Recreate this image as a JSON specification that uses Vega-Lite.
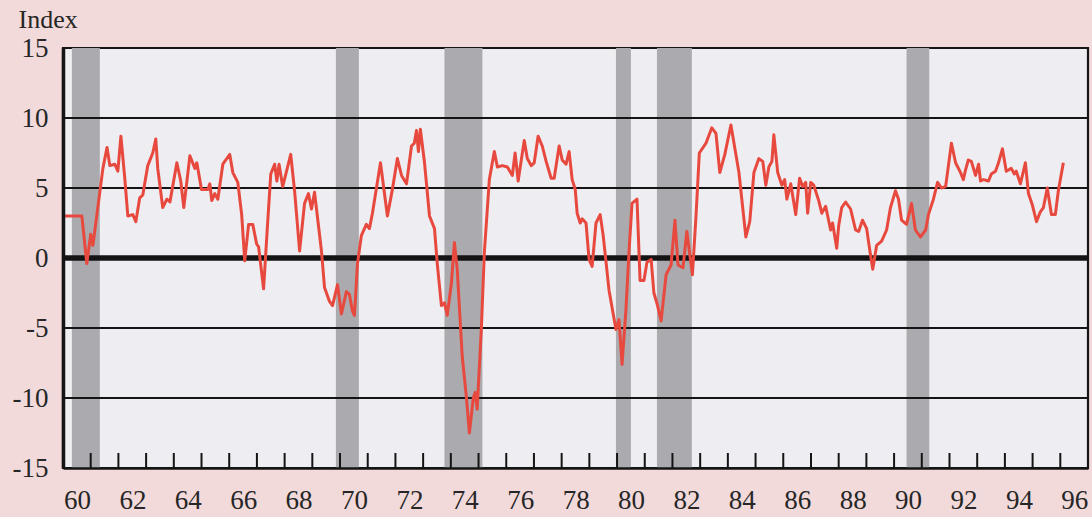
{
  "$schema": "https://vega.github.io/schema/vega-lite/v6.json",
  "width": 1025,
  "height": 420,
  "autosize": {"type": "none"},
  "padding": {"left": 63, "top": 48, "right": 4, "bottom": 49},
  "background": "#f2dadb",
  "view": {"fill": "#eeedf1", "stroke": "#151515", "strokeWidth": 2.2},
  "datasets": {
    "bands": [
      {"start": 1960.32, "end": 1961.33},
      {"start": 1969.85, "end": 1970.68},
      {"start": 1973.77, "end": 1975.14},
      {"start": 1979.96, "end": 1980.5},
      {"start": 1981.44, "end": 1982.7},
      {"start": 1990.45, "end": 1991.27}
    ],
    "grid": [{"g": -10}, {"g": -5}, {"g": 0}, {"g": 5}, {"g": 10}],
    "years": [
      {"yr": 1961}, {"yr": 1962}, {"yr": 1963}, {"yr": 1964}, {"yr": 1965}, {"yr": 1966}, {"yr": 1967}, {"yr": 1968},
      {"yr": 1969}, {"yr": 1970}, {"yr": 1971}, {"yr": 1972}, {"yr": 1973}, {"yr": 1974}, {"yr": 1975}, {"yr": 1976},
      {"yr": 1977}, {"yr": 1978}, {"yr": 1979}, {"yr": 1980}, {"yr": 1981}, {"yr": 1982}, {"yr": 1983}, {"yr": 1984},
      {"yr": 1985}, {"yr": 1986}, {"yr": 1987}, {"yr": 1988}, {"yr": 1989}, {"yr": 1990}, {"yr": 1991}, {"yr": 1992},
      {"yr": 1993}, {"yr": 1994}, {"yr": 1995}, {"yr": 1996}
    ],
    "series": [
      {"t": 1960.0, "v": 3.0}, {"t": 1960.68, "v": 3.0}, {"t": 1960.86, "v": -0.4}, {"t": 1961.0, "v": 1.7},
      {"t": 1961.08, "v": 0.9}, {"t": 1961.44, "v": 6.4}, {"t": 1961.59, "v": 7.9}, {"t": 1961.69, "v": 6.6},
      {"t": 1961.87, "v": 6.7}, {"t": 1961.98, "v": 6.2}, {"t": 1962.09, "v": 8.7}, {"t": 1962.23, "v": 5.7},
      {"t": 1962.34, "v": 3.0}, {"t": 1962.52, "v": 3.1}, {"t": 1962.63, "v": 2.6}, {"t": 1962.77, "v": 4.3},
      {"t": 1962.88, "v": 4.5}, {"t": 1963.06, "v": 6.6}, {"t": 1963.24, "v": 7.5}, {"t": 1963.35, "v": 8.5},
      {"t": 1963.42, "v": 6.4}, {"t": 1963.6, "v": 3.6}, {"t": 1963.75, "v": 4.2}, {"t": 1963.86, "v": 4.0},
      {"t": 1964.11, "v": 6.8}, {"t": 1964.25, "v": 5.5}, {"t": 1964.36, "v": 3.6}, {"t": 1964.58, "v": 7.3},
      {"t": 1964.76, "v": 6.4}, {"t": 1964.83, "v": 6.8}, {"t": 1965.0, "v": 4.9}, {"t": 1965.23, "v": 4.9},
      {"t": 1965.3, "v": 5.3}, {"t": 1965.37, "v": 4.1}, {"t": 1965.48, "v": 4.6}, {"t": 1965.59, "v": 4.2},
      {"t": 1965.77, "v": 6.7}, {"t": 1966.02, "v": 7.4}, {"t": 1966.13, "v": 6.1}, {"t": 1966.31, "v": 5.4},
      {"t": 1966.45, "v": 3.1}, {"t": 1966.56, "v": -0.2}, {"t": 1966.7, "v": 2.4}, {"t": 1966.85, "v": 2.4},
      {"t": 1966.99, "v": 1.0}, {"t": 1967.06, "v": 0.8}, {"t": 1967.24, "v": -2.2}, {"t": 1967.39, "v": 2.6},
      {"t": 1967.5, "v": 6.0}, {"t": 1967.64, "v": 6.7}, {"t": 1967.72, "v": 5.5}, {"t": 1967.8, "v": 6.7},
      {"t": 1967.93, "v": 5.1}, {"t": 1968.22, "v": 7.4}, {"t": 1968.36, "v": 4.8}, {"t": 1968.54, "v": 0.5},
      {"t": 1968.72, "v": 3.9}, {"t": 1968.86, "v": 4.6}, {"t": 1968.97, "v": 3.5}, {"t": 1969.08, "v": 4.7},
      {"t": 1969.33, "v": 0.5}, {"t": 1969.44, "v": -2.1}, {"t": 1969.62, "v": -3.1}, {"t": 1969.73, "v": -3.4},
      {"t": 1969.91, "v": -1.9}, {"t": 1970.05, "v": -4.0}, {"t": 1970.23, "v": -2.4}, {"t": 1970.34, "v": -2.6},
      {"t": 1970.45, "v": -3.8}, {"t": 1970.52, "v": -4.1}, {"t": 1970.63, "v": -0.4}, {"t": 1970.77, "v": 1.6},
      {"t": 1970.95, "v": 2.4}, {"t": 1971.06, "v": 2.1}, {"t": 1971.17, "v": 3.2}, {"t": 1971.46, "v": 6.8},
      {"t": 1971.71, "v": 3.0}, {"t": 1971.89, "v": 4.9}, {"t": 1972.07, "v": 7.1}, {"t": 1972.22, "v": 5.9},
      {"t": 1972.4, "v": 5.3}, {"t": 1972.58, "v": 8.0}, {"t": 1972.68, "v": 8.2}, {"t": 1972.76, "v": 9.1},
      {"t": 1972.83, "v": 7.6}, {"t": 1972.9, "v": 9.2}, {"t": 1973.05, "v": 6.8}, {"t": 1973.23, "v": 3.0},
      {"t": 1973.41, "v": 2.1}, {"t": 1973.51, "v": -0.4}, {"t": 1973.66, "v": -3.4}, {"t": 1973.77, "v": -3.2},
      {"t": 1973.87, "v": -4.1}, {"t": 1974.02, "v": -1.8}, {"t": 1974.13, "v": 1.1}, {"t": 1974.23, "v": -0.8},
      {"t": 1974.41, "v": -7.0}, {"t": 1974.56, "v": -9.9}, {"t": 1974.67, "v": -12.5}, {"t": 1974.81, "v": -10.0},
      {"t": 1974.88, "v": -9.6}, {"t": 1974.95, "v": -10.8}, {"t": 1975.1, "v": -5.1}, {"t": 1975.21, "v": 0.4},
      {"t": 1975.39, "v": 5.6}, {"t": 1975.57, "v": 7.6}, {"t": 1975.68, "v": 6.5}, {"t": 1975.86, "v": 6.6},
      {"t": 1976.04, "v": 6.5}, {"t": 1976.22, "v": 5.9}, {"t": 1976.32, "v": 7.5}, {"t": 1976.43, "v": 5.5},
      {"t": 1976.65, "v": 8.4}, {"t": 1976.76, "v": 7.1}, {"t": 1976.9, "v": 6.6}, {"t": 1977.01, "v": 6.8},
      {"t": 1977.15, "v": 8.7}, {"t": 1977.3, "v": 8.0}, {"t": 1977.44, "v": 6.9}, {"t": 1977.62, "v": 5.7},
      {"t": 1977.73, "v": 5.7}, {"t": 1977.91, "v": 8.0}, {"t": 1978.02, "v": 7.0}, {"t": 1978.16, "v": 6.7},
      {"t": 1978.27, "v": 7.6}, {"t": 1978.38, "v": 5.6}, {"t": 1978.49, "v": 4.9}, {"t": 1978.56, "v": 3.2},
      {"t": 1978.67, "v": 2.5}, {"t": 1978.74, "v": 2.8}, {"t": 1978.88, "v": 2.5}, {"t": 1978.99, "v": -0.1},
      {"t": 1979.1, "v": -0.6}, {"t": 1979.24, "v": 2.5}, {"t": 1979.39, "v": 3.1}, {"t": 1979.5, "v": 1.6},
      {"t": 1979.71, "v": -2.3}, {"t": 1979.96, "v": -5.1}, {"t": 1980.07, "v": -4.4}, {"t": 1980.18, "v": -7.6},
      {"t": 1980.32, "v": -3.7}, {"t": 1980.43, "v": 0.4}, {"t": 1980.54, "v": 3.9}, {"t": 1980.72, "v": 4.2},
      {"t": 1980.83, "v": -1.6}, {"t": 1980.97, "v": -1.6}, {"t": 1981.08, "v": -0.3}, {"t": 1981.23, "v": -0.1},
      {"t": 1981.33, "v": -2.5}, {"t": 1981.45, "v": -3.3}, {"t": 1981.59, "v": -4.5}, {"t": 1981.77, "v": -1.2},
      {"t": 1981.95, "v": -0.5}, {"t": 1982.09, "v": 2.7}, {"t": 1982.2, "v": -0.5}, {"t": 1982.38, "v": -0.7},
      {"t": 1982.52, "v": 1.9}, {"t": 1982.72, "v": -1.2}, {"t": 1982.85, "v": 3.0}, {"t": 1982.97, "v": 7.5},
      {"t": 1983.21, "v": 8.2}, {"t": 1983.42, "v": 9.3}, {"t": 1983.57, "v": 8.9}, {"t": 1983.71, "v": 6.1},
      {"t": 1983.89, "v": 7.4}, {"t": 1984.11, "v": 9.5}, {"t": 1984.29, "v": 7.4}, {"t": 1984.4, "v": 6.1},
      {"t": 1984.65, "v": 1.5}, {"t": 1984.79, "v": 2.6}, {"t": 1984.94, "v": 6.1}, {"t": 1985.12, "v": 7.1},
      {"t": 1985.26, "v": 6.9}, {"t": 1985.37, "v": 5.2}, {"t": 1985.48, "v": 6.5}, {"t": 1985.59, "v": 6.9},
      {"t": 1985.66, "v": 8.8}, {"t": 1985.8, "v": 6.1}, {"t": 1985.95, "v": 5.2}, {"t": 1986.05, "v": 5.6},
      {"t": 1986.13, "v": 4.2}, {"t": 1986.27, "v": 5.3}, {"t": 1986.45, "v": 3.1}, {"t": 1986.59, "v": 5.7},
      {"t": 1986.7, "v": 5.1}, {"t": 1986.81, "v": 5.4}, {"t": 1986.88, "v": 3.2}, {"t": 1986.99, "v": 5.4},
      {"t": 1987.1, "v": 5.2}, {"t": 1987.28, "v": 4.1}, {"t": 1987.39, "v": 3.2}, {"t": 1987.53, "v": 3.7},
      {"t": 1987.71, "v": 2.0}, {"t": 1987.78, "v": 2.5}, {"t": 1987.93, "v": 0.7}, {"t": 1988.0, "v": 2.3},
      {"t": 1988.11, "v": 3.6}, {"t": 1988.25, "v": 4.0}, {"t": 1988.43, "v": 3.5}, {"t": 1988.61, "v": 2.0},
      {"t": 1988.72, "v": 1.9}, {"t": 1988.86, "v": 2.7}, {"t": 1989.01, "v": 2.1}, {"t": 1989.12, "v": 0.6},
      {"t": 1989.23, "v": -0.8}, {"t": 1989.37, "v": 0.9}, {"t": 1989.55, "v": 1.2}, {"t": 1989.73, "v": 2.0},
      {"t": 1989.87, "v": 3.6}, {"t": 1990.05, "v": 4.8}, {"t": 1990.16, "v": 4.2}, {"t": 1990.27, "v": 2.7},
      {"t": 1990.45, "v": 2.4}, {"t": 1990.63, "v": 3.9}, {"t": 1990.77, "v": 2.0}, {"t": 1990.95, "v": 1.5},
      {"t": 1991.14, "v": 2.0}, {"t": 1991.24, "v": 3.1}, {"t": 1991.42, "v": 4.2}, {"t": 1991.57, "v": 5.4},
      {"t": 1991.71, "v": 5.0}, {"t": 1991.86, "v": 5.1}, {"t": 1992.07, "v": 8.2}, {"t": 1992.22, "v": 6.8},
      {"t": 1992.4, "v": 6.1}, {"t": 1992.5, "v": 5.6}, {"t": 1992.58, "v": 6.3}, {"t": 1992.68, "v": 7.0},
      {"t": 1992.79, "v": 6.9}, {"t": 1992.94, "v": 5.9}, {"t": 1993.05, "v": 6.7}, {"t": 1993.12, "v": 5.5},
      {"t": 1993.23, "v": 5.6}, {"t": 1993.41, "v": 5.5}, {"t": 1993.51, "v": 6.0}, {"t": 1993.66, "v": 6.2},
      {"t": 1993.77, "v": 6.8}, {"t": 1993.91, "v": 7.8}, {"t": 1994.05, "v": 6.2}, {"t": 1994.23, "v": 6.4},
      {"t": 1994.34, "v": 6.0}, {"t": 1994.41, "v": 6.2}, {"t": 1994.56, "v": 5.3}, {"t": 1994.74, "v": 6.8},
      {"t": 1994.85, "v": 4.6}, {"t": 1994.99, "v": 3.8}, {"t": 1995.14, "v": 2.6}, {"t": 1995.28, "v": 3.3},
      {"t": 1995.39, "v": 3.6}, {"t": 1995.53, "v": 5.0}, {"t": 1995.68, "v": 3.1}, {"t": 1995.82, "v": 3.1},
      {"t": 1995.93, "v": 4.8}, {"t": 1996.11, "v": 6.8}
    ]
  },
  "layer": [
    {
      "data": {"name": "series"},
      "mark": {"type": "line", "color": "#e8493f", "strokeWidth": 3, "opacity": 0},
      "encoding": {
        "x": {
          "field": "t", "type": "quantitative",
          "scale": {"domain": [1960, 1997], "nice": false, "zero": false},
          "axis": {
            "title": null,
            "values": [1960, 1962, 1964, 1966, 1968, 1970, 1972, 1974, 1976, 1978, 1980, 1982, 1984, 1986, 1988, 1990, 1992, 1994, 1996],
            "tickCount": 40,
            "labelExpr": "'' + (datum.value % 100)",
            "labelOffset": 14,
            "labelPadding": 19,
            "labelFlush": false,
            "labelOverlap": false,
            "labelBound": false,
            "labelFont": "Liberation Serif",
            "labelFontSize": 27,
            "labelColor": "#262626",
            "labelBaseline": "top",
            "ticks": false,
            "tickSize": 0,
            "domain": true,
            "domainColor": "#141414",
            "domainWidth": 2.5,
            "grid": false,
            "zindex": 1
          }
        },
        "y": {
          "field": "v", "type": "quantitative",
          "scale": {"domain": [-15, 15], "nice": false, "zero": false},
          "axis": {
            "title": "Index",
            "titleAngle": 0,
            "titleAlign": "left",
            "titleBaseline": "alphabetic",
            "titleX": -45,
            "titleY": -21,
            "titleFont": "Liberation Serif",
            "titleFontSize": 26,
            "titleFontWeight": "normal",
            "titleColor": "#262626",
            "values": [-15, -10, -5, 0, 5, 10, 15],
            "tickCount": 20,
            "labelExpr": "'' + datum.value",
            "labelFont": "Liberation Serif",
            "labelFontSize": 27,
            "labelColor": "#262626",
            "labelPadding": 15,
            "ticks": false,
            "tickSize": 0,
            "domain": true,
            "domainColor": "#141414",
            "domainWidth": 3.5,
            "grid": false,
            "zindex": 1
          }
        }
      }
    },
    {
      "data": {"name": "bands"},
      "mark": {"type": "rect", "color": "#ababaf"},
      "encoding": {
        "x": {"field": "start", "type": "quantitative"},
        "x2": {"field": "end"}
      }
    },
    {
      "data": {"name": "grid"},
      "mark": {"type": "rule", "color": "#141414"},
      "encoding": {
        "y": {"field": "g", "type": "quantitative"},
        "strokeWidth": {"condition": {"test": "datum.g === 0", "value": 5.5}, "value": 2}
      }
    },
    {
      "data": {"name": "years"},
      "mark": {"type": "rule", "color": "#141414", "strokeWidth": 2},
      "encoding": {
        "x": {"field": "yr", "type": "quantitative"},
        "y": {"datum": -15},
        "y2": {"datum": -13.93}
      }
    },
    {
      "data": {"name": "series"},
      "mark": {"type": "line", "color": "#e8493f", "strokeWidth": 3, "strokeJoin": "round"},
      "encoding": {
        "x": {"field": "t", "type": "quantitative"},
        "y": {"field": "v", "type": "quantitative"}
      }
    }
  ]
}
